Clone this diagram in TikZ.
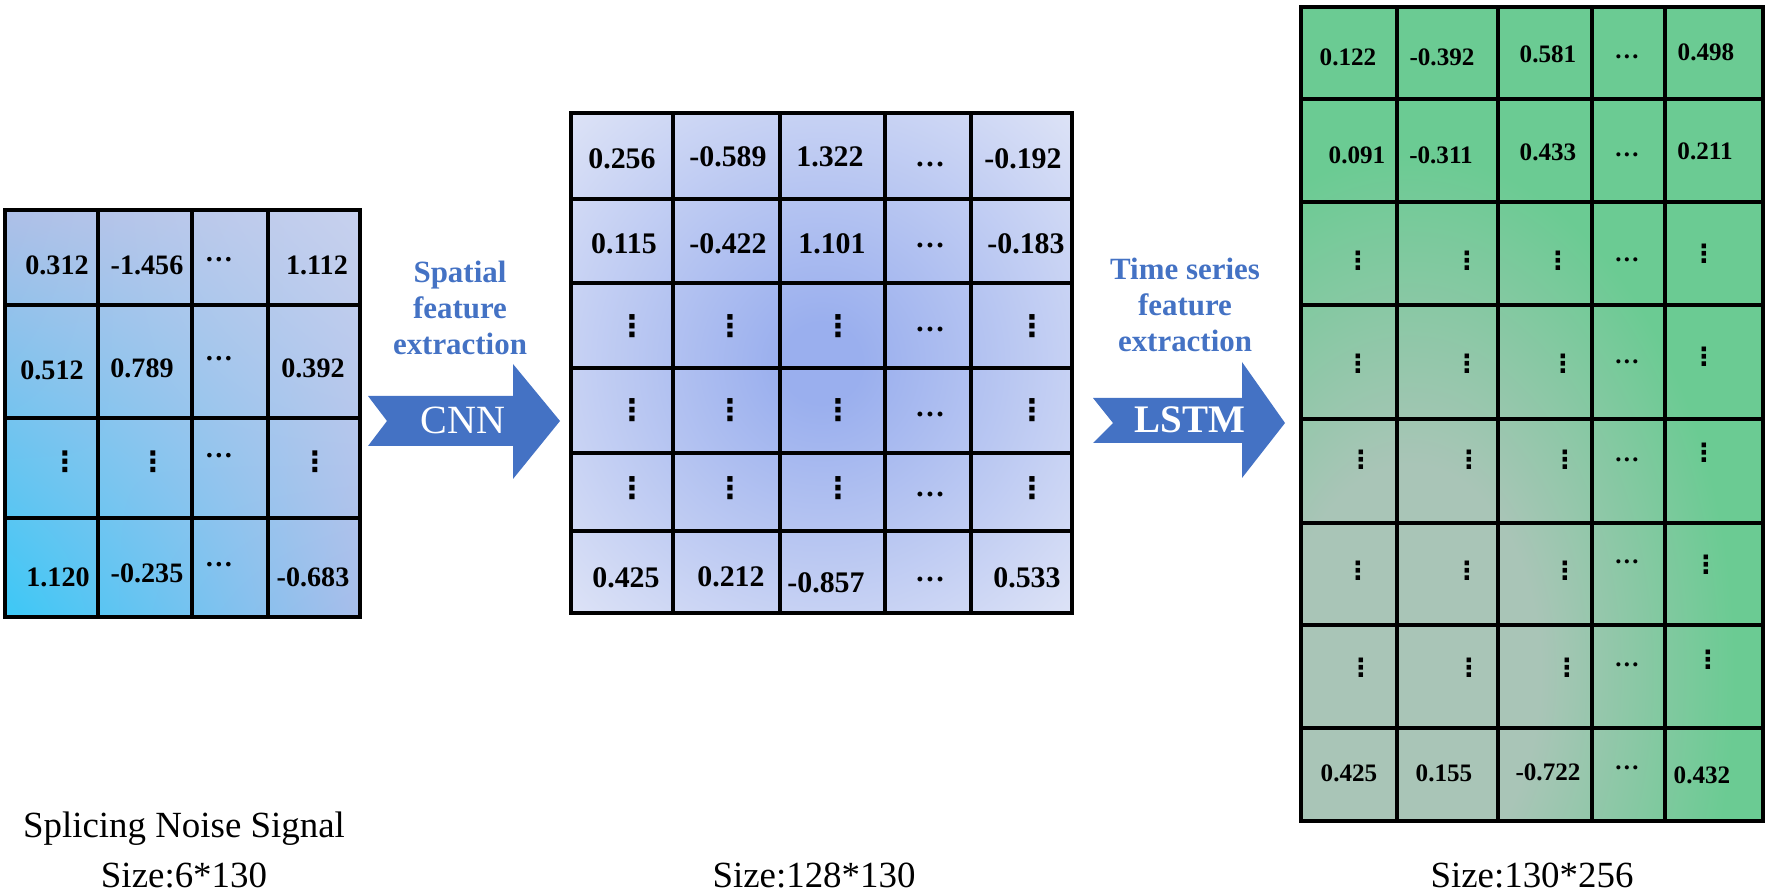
\documentclass[tikz,border=0pt]{standalone}
\usepackage{fontspec}
\setmainfont{Liberation Serif}
\newfontfamily\symfont{DejaVu Sans}
\usepackage{tikz}
\usetikzlibrary{shadings}

\definecolor{arrowblue}{HTML}{4472C4}
\definecolor{lgul}{HTML}{AEBFE7}
\definecolor{lgur}{HTML}{C7D1EE}
\definecolor{lgll}{HTML}{3CC8F6}
\definecolor{lglr}{HTML}{A7BDEA}
\definecolor{midcentre}{HTML}{9AAFEE}
\definecolor{midedge}{HTML}{DCE2F6}
\definecolor{rgreen}{HTML}{6BCB93}
\definecolor{rgrey}{HTML}{A9C5B7}

\pgfdeclareradialshading{midglow}{\pgfpoint{0bp}{0bp}}{color(0bp)=(midcentre); color(4bp)=(midcentre); color(35bp)=(midedge); color(50bp)=(midedge)}
\pgfdeclareradialshading{rightglow}{\pgfpoint{0bp}{0bp}}{color(0bp)=(rgrey); color(10bp)=(rgrey); color(25bp)=(rgreen); color(50bp)=(rgreen)}

\newcommand{\vdotcell}{{\symfont\symbol{"22EE}}}

\tikzset{
  gridline/.style={line width=2.6pt},
  cellnum/.style={inner sep=0pt, font=\bfseries\fontsize{16}{19}\selectfont},
  cellnumbig/.style={inner sep=0pt, font=\bfseries\fontsize{17}{20}\selectfont},
  cellnumsm/.style={inner sep=0pt, font=\bfseries\fontsize{14.3}{17}\selectfont},
  steplabel/.style={align=center, text=arrowblue, font=\bfseries\fontsize{17.6}{20.6}\selectfont},
  sizelabel/.style={anchor=base, inner sep=0pt, font=\fontsize{21}{25}\selectfont}
}

\begin{document}
\begin{tikzpicture}
  \useasboundingbox (0,0) rectangle (35.44,17.86);

  %first grid: input signal
  \shade[upper left=lgul, upper right=lgur, lower left=lgll, lower right=lglr] (0.10,5.52) rectangle (7.20,13.66);
  \draw[gridline] (0.10,5.52) rectangle (7.20,13.66);
  \draw[gridline] (1.96,5.52) -- (1.96,13.66);
  \draw[gridline] (3.84,5.52) -- (3.84,13.66);
  \draw[gridline] (5.36,5.52) -- (5.36,13.66);
  \draw[gridline] (0.10,11.76) -- (7.20,11.76);
  \draw[gridline] (0.10,9.50) -- (7.20,9.50);
  \draw[gridline] (0.10,7.50) -- (7.20,7.50);

  %values
  \node[cellnum] (l11) at (1.14,12.56) {0.312};
  \node[cellnum] (l12) at (2.94,12.56) {-1.456};
  \node[cellnum] (l13) at (4.38,12.66) {\ldots};
  \node[cellnum] (l14) at (6.34,12.56) {1.112};

  \node[cellnum] (l21) at (1.04,10.46) {0.512};
  \node[cellnum] (l22) at (2.84,10.50) {0.789};
  \node[cellnum] (l23) at (4.38,10.68) {\ldots};
  \node[cellnum] (l24) at (6.26,10.50) {0.392};

  \node[cellnum] (l31) at (1.30,8.62) {\vdotcell};
  \node[cellnum] (l32) at (3.06,8.62) {\vdotcell};
  \node[cellnum] (l33) at (4.38,8.74) {\ldots};
  \node[cellnum] (l34) at (6.30,8.62) {\vdotcell};

  \node[cellnum] (l41) at (1.16,6.32) {1.120};
  \node[cellnum] (l42) at (2.94,6.40) {-0.235};
  \node[cellnum] (l43) at (4.38,6.56) {\ldots};
  \node[cellnum] (l44) at (6.26,6.32) {-0.683};

  %first arrow
  \fill[arrowblue] (7.36,9.94) -- (10.26,9.94) -- (10.26,10.58) -- (11.20,9.44) -- (10.26,8.28) -- (10.26,8.94) -- (7.36,8.94) -- (7.74,9.44) -- cycle;
  \node[text=white, font=\fontsize{22.8}{26}\selectfont] (cnn) at (9.26,9.46) {CNN};
  \node[steplabel] (spatial) at (9.20,11.70) {Spatial\\feature\\extraction};

  %second grid: CNN output
  \shade[shading=midglow] (11.42,5.60) rectangle (21.44,15.60);
  \draw[gridline] (11.42,5.60) rectangle (21.44,15.60);
  \draw[gridline] (13.46,5.60) -- (13.46,15.60);
  \draw[gridline] (15.60,5.60) -- (15.60,15.60);
  \draw[gridline] (17.70,5.60) -- (17.70,15.60);
  \draw[gridline] (19.42,5.60) -- (19.42,15.60);
  \draw[gridline] (11.42,13.88) -- (21.44,13.88);
  \draw[gridline] (11.42,12.20) -- (21.44,12.20);
  \draw[gridline] (11.42,10.50) -- (21.44,10.50);
  \draw[gridline] (11.42,8.80) -- (21.44,8.80);
  \draw[gridline] (11.42,7.24) -- (21.44,7.24);

  %values
  \node[cellnumbig] (m11) at (12.44,14.68) {0.256};
  \node[cellnumbig] (m12) at (14.56,14.72) {-0.589};
  \node[cellnumbig] (m13) at (16.60,14.72) {1.322};
  \node[cellnumbig] (m14) at (18.60,14.56) {\ldots};
  \node[cellnumbig] (m15) at (20.46,14.68) {-0.192};

  \node[cellnumbig] (m21) at (12.48,12.98) {0.115};
  \node[cellnumbig] (m22) at (14.56,12.98) {-0.422};
  \node[cellnumbig] (m23) at (16.64,12.98) {1.101};
  \node[cellnumbig] (m24) at (18.60,12.94) {\ldots};
  \node[cellnumbig] (m25) at (20.52,12.98) {-0.183};

  \node[cellnumbig] (m31) at (12.64,11.34) {\vdotcell};
  \node[cellnumbig] (m32) at (14.60,11.34) {\vdotcell};
  \node[cellnumbig] (m33) at (16.76,11.34) {\vdotcell};
  \node[cellnumbig] (m34) at (18.60,11.26) {\ldots};
  \node[cellnumbig] (m35) at (20.64,11.34) {\vdotcell};

  \node[cellnumbig] (m41) at (12.64,9.66) {\vdotcell};
  \node[cellnumbig] (m42) at (14.60,9.66) {\vdotcell};
  \node[cellnumbig] (m43) at (16.76,9.66) {\vdotcell};
  \node[cellnumbig] (m44) at (18.60,9.56) {\ldots};
  \node[cellnumbig] (m45) at (20.64,9.66) {\vdotcell};

  \node[cellnumbig] (m51) at (12.64,8.10) {\vdotcell};
  \node[cellnumbig] (m52) at (14.60,8.10) {\vdotcell};
  \node[cellnumbig] (m53) at (16.76,8.10) {\vdotcell};
  \node[cellnumbig] (m54) at (18.60,7.96) {\ldots};
  \node[cellnumbig] (m55) at (20.64,8.10) {\vdotcell};

  \node[cellnumbig] (m61) at (12.52,6.30) {0.425};
  \node[cellnumbig] (m62) at (14.62,6.32) {0.212};
  \node[cellnumbig] (m63) at (16.52,6.20) {-0.857};
  \node[cellnumbig] (m64) at (18.60,6.26) {\ldots};
  \node[cellnumbig] (m65) at (20.54,6.30) {0.533};

  %second arrow
  \fill[arrowblue] (21.86,9.90) -- (24.84,9.90) -- (24.84,10.62) -- (25.70,9.40) -- (24.84,8.30) -- (24.84,9.00) -- (21.86,9.00) -- (22.26,9.40) -- cycle;
  \node[text=white, font=\bfseries\fontsize{22.2}{26}\selectfont] (lstm) at (23.80,9.46) {LSTM};
  \node[steplabel] (timeseries) at (23.70,11.76) {Time series\\feature\\extraction};

  %third grid: LSTM output
  \fill[rgreen] (26.02,1.44) rectangle (35.26,17.72);
  \begin{scope}
    \clip (26.02,1.44) rectangle (35.26,17.72);
    \shade[shading=rightglow] (21.70,-6.00) rectangle (34.70,14.80);
  \end{scope}
  \draw[gridline] (26.02,1.44) rectangle (35.26,17.72);
  \draw[gridline] (27.94,1.44) -- (27.94,17.72);
  \draw[gridline] (29.96,1.44) -- (29.96,17.72);
  \draw[gridline] (31.84,1.44) -- (31.84,17.72);
  \draw[gridline] (33.30,1.44) -- (33.30,17.72);
  \draw[gridline] (26.02,15.88) -- (35.26,15.88);
  \draw[gridline] (26.02,13.82) -- (35.26,13.82);
  \draw[gridline] (26.02,11.76) -- (35.26,11.76);
  \draw[gridline] (26.02,9.48) -- (35.26,9.48);
  \draw[gridline] (26.02,7.40) -- (35.26,7.40);
  \draw[gridline] (26.02,5.36) -- (35.26,5.36);
  \draw[gridline] (26.02,3.30) -- (35.26,3.30);

  %values
  \node[cellnumsm] (r11) at (26.96,16.72) {0.122};
  \node[cellnumsm] (r12) at (28.84,16.72) {-0.392};
  \node[cellnumsm] (r13) at (30.96,16.78) {0.581};
  \node[cellnumsm] (r14) at (32.54,16.72) {\ldots};
  \node[cellnumsm] (r15) at (34.12,16.82) {0.498};

  \node[cellnumsm] (r21) at (27.14,14.76) {0.091};
  \node[cellnumsm] (r22) at (28.82,14.76) {-0.311};
  \node[cellnumsm] (r23) at (30.96,14.82) {0.433};
  \node[cellnumsm] (r24) at (32.54,14.76) {\ldots};
  \node[cellnumsm] (r25) at (34.10,14.84) {0.211};

  \node[cellnumsm] (r31) at (27.16,12.64) {\vdotcell};
  \node[cellnumsm] (r32) at (29.34,12.64) {\vdotcell};
  \node[cellnumsm] (r33) at (31.16,12.64) {\vdotcell};
  \node[cellnumsm] (r34) at (32.54,12.66) {\ldots};
  \node[cellnumsm] (r35) at (34.08,12.78) {\vdotcell};

  \node[cellnumsm] (r41) at (27.16,10.58) {\vdotcell};
  \node[cellnumsm] (r42) at (29.34,10.58) {\vdotcell};
  \node[cellnumsm] (r43) at (31.26,10.58) {\vdotcell};
  \node[cellnumsm] (r44) at (32.54,10.62) {\ldots};
  \node[cellnumsm] (r45) at (34.08,10.72) {\vdotcell};

  \node[cellnumsm] (r51) at (27.22,8.66) {\vdotcell};
  \node[cellnumsm] (r52) at (29.38,8.66) {\vdotcell};
  \node[cellnumsm] (r53) at (31.30,8.66) {\vdotcell};
  \node[cellnumsm] (r54) at (32.54,8.66) {\ldots};
  \node[cellnumsm] (r55) at (34.08,8.80) {\vdotcell};

  \node[cellnumsm] (r61) at (27.16,6.44) {\vdotcell};
  \node[cellnumsm] (r62) at (29.34,6.44) {\vdotcell};
  \node[cellnumsm] (r63) at (31.30,6.44) {\vdotcell};
  \node[cellnumsm] (r64) at (32.54,6.62) {\ldots};
  \node[cellnumsm] (r65) at (34.12,6.56) {\vdotcell};

  \node[cellnumsm] (r71) at (27.22,4.50) {\vdotcell};
  \node[cellnumsm] (r72) at (29.38,4.50) {\vdotcell};
  \node[cellnumsm] (r73) at (31.34,4.50) {\vdotcell};
  \node[cellnumsm] (r74) at (32.54,4.56) {\ldots};
  \node[cellnumsm] (r75) at (34.16,4.66) {\vdotcell};

  \node[cellnumsm] (r81) at (26.98,2.40) {0.425};
  \node[cellnumsm] (r82) at (28.88,2.40) {0.155};
  \node[cellnumsm] (r83) at (30.96,2.42) {-0.722};
  \node[cellnumsm] (r84) at (32.54,2.50) {\ldots};
  \node[cellnumsm] (r85) at (34.04,2.36) {0.432};

  %labels
  \node[sizelabel] (inname) at (3.68,1.12) {Splicing Noise Signal};
  \node[sizelabel] (insize) at (3.68,0.12) {Size:6*130};
  \node[sizelabel] (cnnsize) at (16.28,0.12) {Size:128*130};
  \node[sizelabel] (lstmsize) at (30.64,0.12) {Size:130*256};

\end{tikzpicture}
\end{document}
